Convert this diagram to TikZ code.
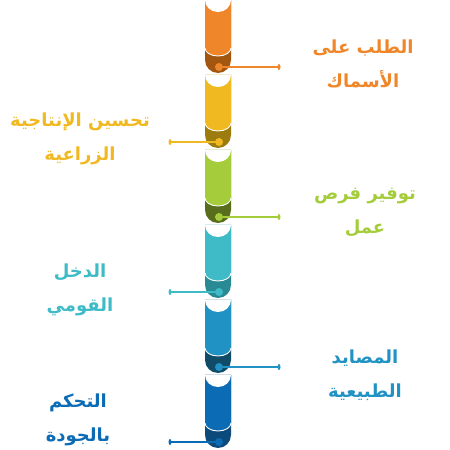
\documentclass[tikz,border=0pt]{standalone}
\usepackage{fontspec}
\usepackage{xcolor}
\usepackage{tikz}
\usetikzlibrary{positioning}
\newfontfamily\arabicfont[Script=Arabic]{DejaVu Sans}
\TeXXeTstate=1

\definecolor{orangeL}{HTML}{F0862A}
\definecolor{orangeD}{HTML}{A2560F}
\definecolor{yellowL}{HTML}{F0B922}
\definecolor{yellowD}{HTML}{9C7B0F}
\definecolor{greenL}{HTML}{A5CC3A}
\definecolor{greenD}{HTML}{586E1C}
\definecolor{tealL}{HTML}{3EBBC7}
\definecolor{tealD}{HTML}{2A8A93}
\definecolor{blueL}{HTML}{2192C4}
\definecolor{blueD}{HTML}{104B68}
\definecolor{navyL}{HTML}{0C6BB5}
\definecolor{navyD}{HTML}{0C4A7C}

\begin{document}
\begin{tikzpicture}[
    x=1pt, y=1pt,
    dot/.style={circle, inner sep=0pt, minimum size=8pt},
    conn/.style={line width=1.4pt},
    lbl/.style={font=\arabicfont\bfseries\fontsize{18}{34}\selectfont, align=center},
]
\useasboundingbox (0,0) rectangle (450,450);

% Column of segments
\foreach \k/\cl/\cd in {0/orangeL/orangeD, 1/yellowL/yellowD, 2/greenL/greenD,
                        3/tealL/tealD, 4/blueL/blueD, 5/navyL/navyD} {
    \pgfmathsetmacro{\ytop}{450-75*\k}
    \fill[\cd] (205,\ytop) -- (205,\ytop-60) arc[start angle=180, end angle=360, radius=13] -- (231,\ytop) -- cycle;
    \fill[\cl] (205,\ytop) -- (205,\ytop-48) arc[start angle=180, end angle=360, x radius=13, y radius=8] -- (231,\ytop) -- cycle;
    \draw[white, line width=0.9pt] (205,\ytop-48) arc[start angle=180, end angle=360, x radius=13, y radius=8];
    \fill[white] (205,\ytop) arc[start angle=180, end angle=360, x radius=13, y radius=12] -- cycle;
}

% Dots
\node[dot, fill=orangeL] (d1) at (219,383) {};
\node[dot, fill=yellowL] (d2) at (219,308) {};
\node[dot, fill=greenL]  (d3) at (219,233) {};
\node[dot, fill=tealL]   (d4) at (219,158) {};
\node[dot, fill=blueL]   (d5) at (219,83) {};
\node[dot, fill=navyL]   (d6) at (219,8) {};

% Connector ends
\coordinate (e1) at (279,383);
\coordinate (e2) at (170,308);
\coordinate (e3) at (279,233);
\coordinate (e4) at (170,158);
\coordinate (e5) at (279,83);
\coordinate (e6) at (170,8);

\draw[conn, orangeL] (d1) -- (e1);
\draw[conn, yellowL] (d2) -- (e2);
\draw[conn, greenL]  (d3) -- (e3);
\draw[conn, tealL]   (d4) -- (e4);
\draw[conn, blueL]   (d5) -- (e5);
\draw[conn, navyL]   (d6) -- (e6);

\fill[orangeL] (e1) ellipse (1.5 and 3);
\fill[yellowL] (e2) ellipse (1.5 and 3);
\fill[greenL]  (e3) ellipse (1.5 and 3);
\fill[tealL]   (e4) ellipse (1.5 and 3);
\fill[blueL]   (e5) ellipse (1.5 and 3);
\fill[navyL]   (e6) ellipse (1.5 and 3);

% Labels
\node[lbl, text=orangeL] (t1) at (363,386) {\beginR الطلب على\endR\\\beginR الأسماك\endR};
\node[lbl, text=yellowL] (t2) at (80,311)  {\beginR تحسين الإنتاجية\endR\\\beginR الزراعية\endR};
\node[lbl, text=greenL]  (t3) at (365,237) {\beginR توفير فرص\endR\\\beginR عمل\endR};
\node[lbl, text=tealL]   (t4) at (80,160)  {\beginR الدخل\endR\\\beginR القومي\endR};
\node[lbl, text=blueL]   (t5) at (365,75)  {\beginR المصايد\endR\\\beginR الطبيعية\endR};
\node[lbl, text=navyL]   (t6) at (78,30)   {\beginR التحكم\endR\\\beginR بالجودة\endR};

\end{tikzpicture}
\end{document}
